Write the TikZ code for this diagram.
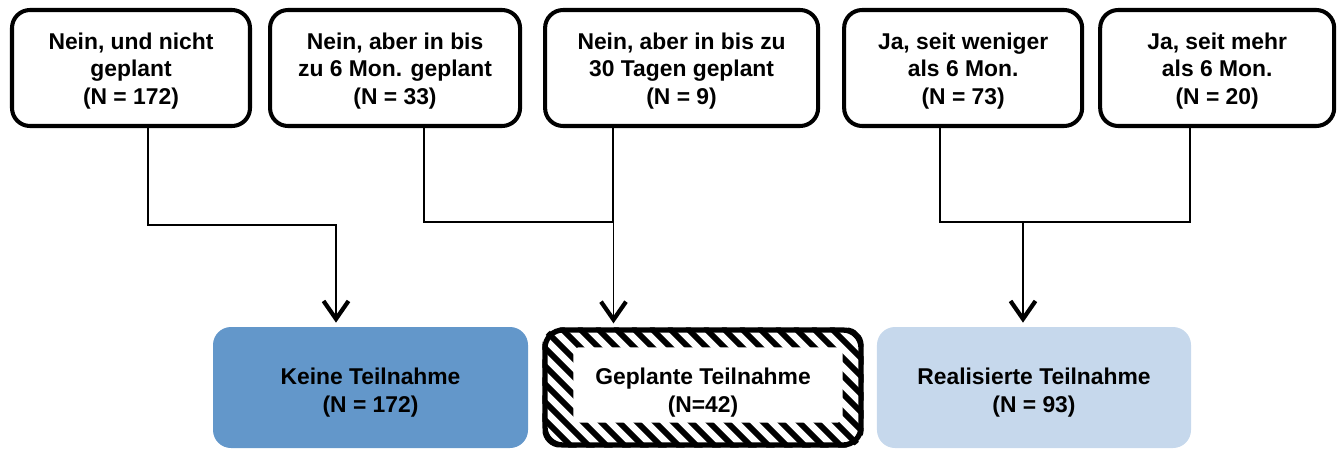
\documentclass[tikz,border=0pt]{standalone}
\usepackage{fontspec}
\setmainfont{Liberation Sans}
\usetikzlibrary{arrows.meta, positioning, backgrounds}

\definecolor{keineblue}{HTML}{6397CA}
\definecolor{realblue}{HTML}{C6D8EC}
\newcommand{\boxstrut}[1]{\rule{0pt}{#1}}

\tikzset{
  answer/.style={draw, line width=2.3pt, rounded corners=3.6mm, align=center,
    minimum height=23.2mm, inner sep=0pt, font=\bfseries\fontsize{13}{15.5}\selectfont},
  outcome/.style={rounded corners=3.6mm, align=center, minimum height=24.2mm, inner sep=0pt,
    font=\bfseries\fontsize{13}{16}\selectfont},
  link/.style={line width=1.1pt},
  arrow/.style={link, -{Straight Barb[length=3.6mm, width=5mm, line width=2.4pt]}, shorten >=0.8mm},
  stripe/.style={line width=3.4pt, line cap=butt}
}

\begin{document}
\begin{tikzpicture}[x=0.2mm, y=-0.2mm]
    \useasboundingbox (0,0) rectangle (1340,448);
    % answers
    \node[answer, minimum width=47.6mm] (B1) at (131,68) {\boxstrut{4.5mm}Nein, und nicht\\geplant\\(N = 172)};
    \node[answer, minimum width=50mm, right=3.2mm of B1] (B2) {\boxstrut{4.5mm}Nein, aber in bis\\zu 6 Mon. geplant\\(N = 33)};
    \node[answer, minimum width=54.6mm, right=4.2mm of B2] (B3) {\boxstrut{4.5mm}Nein, aber in bis zu\\30 Tagen geplant\\(N = 9)};
    \node[answer, minimum width=47.6mm, right=4.4mm of B3] (B4) {\boxstrut{4.5mm}Ja, seit weniger\\als 6 Mon.\\(N = 73)};
    \node[answer, minimum width=46.8mm, right=2.8mm of B4] (B5) {\boxstrut{4.5mm}Ja, seit mehr\\als 6 Mon.\\(N = 20)};
    % outcomes
    \node[outcome, fill=keineblue, minimum width=63mm] (K) at (370.5,387.5) {\boxstrut{5.3mm}Keine Teilnahme\\(N = 172)};
    \node[outcome, draw, line width=3pt, minimum width=63.2mm, minimum height=23mm, right=2.8mm of K] (G) {\boxstrut{5.3mm}Geplante Teilnahme\\(N=42)};
    \node[outcome, fill=realblue, minimum width=62.8mm, right=2.6mm of G] (R) {\boxstrut{5.3mm}Realisierte Teilnahme\\(N = 93)};
    % hatching of the planned box
    \begin{scope}[on background layer]
        \begin{scope}
            \clip[rounded corners=3.6mm] (G.north west) rectangle (G.south east);
            \foreach \i in {-8,...,18}
                \draw[stripe] ([xshift=\i*3.6mm]G.north west) -- ++(140,140);
        \end{scope}
        \fill[white, rounded corners=1mm] ([xshift=6.2mm,yshift=-4mm]G.north west) rectangle ([xshift=-4.2mm,yshift=5mm]G.south east);
    \end{scope}
    % connectors
    \coordinate (tK) at ([xshift=-6.9mm]K.north);
    \coordinate (tG) at ([xshift=-17.9mm]G.north);
    \coordinate (tR) at ([xshift=-2.2mm]R.north);
    \draw[arrow] ([xshift=3.4mm]B1.south) -- ++(0,97) -| (tK);
    \draw[link] ([xshift=5.8mm]B2.south) -- ++(0,94) coordinate (jG) -| ([xshift=-13.7mm]B3.south);
    \draw[arrow] (jG -| tG) -- (tG);
    \draw[link] ([xshift=-4.6mm]B4.south) -- ++(0,94) coordinate (jR) -| ([xshift=-5.4mm]B5.south);
    \draw[arrow] (jR -| tR) -- (tR);
\end{tikzpicture}
\end{document}
